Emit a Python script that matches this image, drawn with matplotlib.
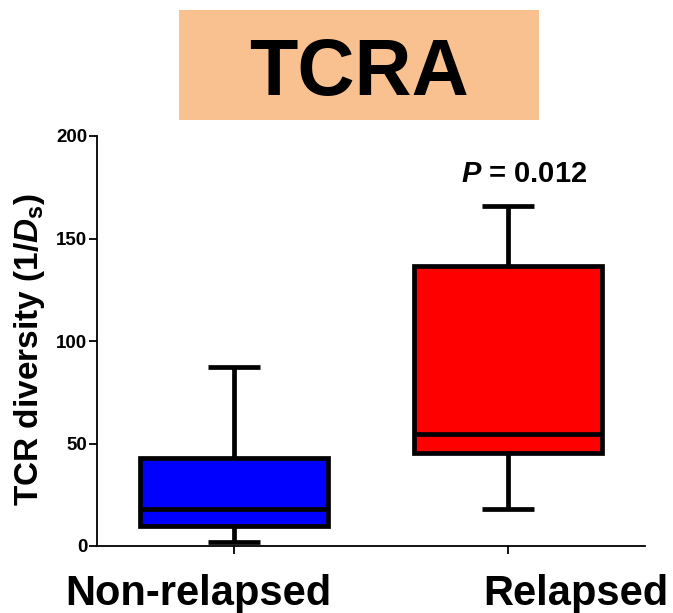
import matplotlib
matplotlib.use("Agg")
import matplotlib.pyplot as plt
from matplotlib.patches import Rectangle

plt.rcParams['font.family'] = ['Liberation Sans', 'DejaVu Sans']
plt.rcParams['mathtext.fontset'] = 'custom'
plt.rcParams['mathtext.it'] = 'Liberation Sans:italic:bold'
plt.rcParams['mathtext.rm'] = 'Liberation Sans:bold'
plt.rcParams['mathtext.bf'] = 'Liberation Sans:bold'

categories = ["Non-relapsed", "Relapsed"]
whisker_low = [2, 18]
q1 = [10, 45.2]
median = [18, 54.8]
q3 = [43, 136.5]
whisker_high = [87.5, 166]
box_colors = ["#0000FF", "#FF0000"]
yticks = [0, 50, 100, 150, 200]
title_text = "TCRA"
p_text = r"$\mathit{P}$ = 0.012"
ylabel_text = r"TCR diversity (1/$\mathit{D}_{\mathrm{s}}$)"

W, H = 673, 613
fig = plt.figure(figsize=(W/100, H/100), dpi=100)
ax = fig.add_axes([96.5/W, 1-546/H, (645-96.5)/W, (546-136)/H])

stats = []
for i, c in enumerate(categories):
    stats.append(dict(label=c, whislo=whisker_low[i], q1=q1[i], med=median[i],
                      q3=q3[i], whishi=whisker_high[i], fliers=[]))

lw = 3.4
bp = ax.bxp(stats, positions=[0, 1], widths=0.686, patch_artist=True,
            showfliers=False,
            boxprops=dict(linewidth=lw, edgecolor='black'),
            medianprops=dict(linewidth=lw, color='black', solid_capstyle='butt'),
            whiskerprops=dict(linewidth=lw, color='black', solid_capstyle='butt'),
            capprops=dict(linewidth=lw, color='black', solid_capstyle='butt'),
            capwidths=0.19)
for patch, col in zip(bp['boxes'], box_colors):
    patch.set_facecolor(col)
    patch.set_joinstyle('miter')

ax.set_xlim(-0.5, 1.5)
ax.set_ylim(0, 200)
ax.set_yticks(yticks)
ax.set_yticklabels([str(t) for t in yticks], fontsize=13.5, fontweight='bold')
ax.set_xticks([0, 1])
ax.set_xticklabels([])
ax.tick_params(axis='y', length=6, width=1.3, pad=0.5)
ax.tick_params(axis='x', length=6, width=1.3)
for s in ['top', 'right']:
    ax.spines[s].set_visible(False)
for s in ['left', 'bottom']:
    ax.spines[s].set_linewidth(1.3)

# category labels (placed as in the reference, offset from ticks)
label_left = [65, 483]
for lab, xl in zip(categories, label_left):
    fig.text(xl/W, 1-605/H, lab, ha='left', va='baseline',
             fontsize=30, fontweight='bold')

fig.text(30/W, 1-350/H, ylabel_text, rotation=90, ha='center', va='center',
         fontsize=24, fontweight='bold')

fig.text(524/W, 1-182/H, p_text, ha='center', va='baseline', fontsize=21,
         fontweight='bold')

# title box
fig.patches.append(Rectangle((179/W, 1-120/H), (539-179)/W, (120-10)/H,
                             transform=fig.transFigure, facecolor='#F9C18F',
                             edgecolor='none', zorder=0))
fig.text(359/W, 1-95/H, title_text, ha='center', va='baseline',
         fontsize=57, fontweight='bold')

fig.savefig("out.png", dpi=100)
